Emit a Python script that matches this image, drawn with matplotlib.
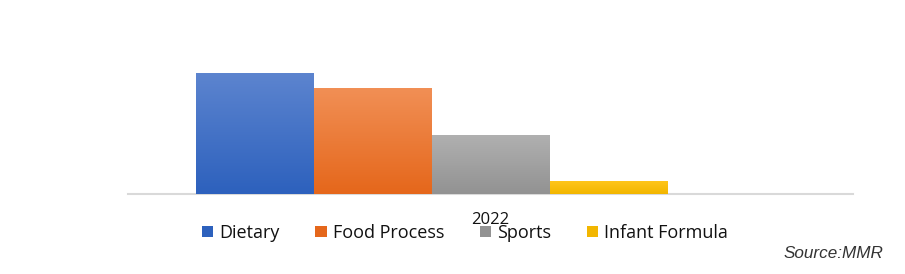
import matplotlib
matplotlib.use("Agg")
import matplotlib.pyplot as plt
import numpy as np
from matplotlib.colors import LinearSegmentedColormap
from matplotlib.patches import Rectangle

categories = ["2022"]
series = ["Dietary", "Food Process", "Sports", "Infant Formula", ""]
values = [121, 106, 59, 13, 0]
top_colors = ["#5c84cf", "#f18f55", "#b0b0b0", "#ffc51a"]
bot_colors = ["#2d61bd", "#e5671b", "#929292", "#f2b600"]

fig = plt.figure(figsize=(9.05, 2.74), dpi=100)
ax = fig.add_axes([128/905, (274-194)/274, (853-128)/905, 174/274])
ax.set_xlim(-0.5, 0.5)
ax.set_ylim(0, 174)

n = len(series)
w = 118/725
x0 = -w*n/2
handles = []
for i, (s, v) in enumerate(zip(series, values)):
    if v <= 0:
        continue
    xl = x0 + i*w
    bar = ax.bar(xl, v, width=w, align="edge", color=bot_colors[i], zorder=2)[0]
    cmap = LinearSegmentedColormap.from_list("g", [bot_colors[i], top_colors[i]])
    grad = np.linspace(0, 1, 100).reshape(-1, 1)
    im = ax.imshow(grad, cmap=cmap, origin="lower", aspect="auto",
                   extent=[bar.get_x(), bar.get_x()+bar.get_width(), 0, bar.get_height()],
                   zorder=3)
    im.set_clip_path(bar)
    handles.append(Rectangle((0, 0), 1, 1, facecolor=bot_colors[i]))
ax.set_xlim(-0.5, 0.5)
ax.set_ylim(0, 174)

for sp in ["top", "right", "left"]:
    ax.spines[sp].set_visible(False)
ax.spines["bottom"].set_color("#d9d9d9")
ax.spines["bottom"].set_linewidth(1.5)
ax.set_yticks([])
ax.set_xticks([0])
ax.set_xticklabels(categories, fontsize=12, family="Open Sans", color="#111111")
ax.tick_params(axis="x", length=0, pad=13)

leg = fig.legend(handles, series[:4], loc="center", bbox_to_anchor=(465/905, 1-233/274),
                 ncol=4, frameon=False, prop={"family": "Open Sans", "size": 13},
                 handlelength=0.62, handleheight=0.62, handletextpad=0.33,
                 columnspacing=2.0, borderpad=0, borderaxespad=0)
for t in leg.get_texts():
    t.set_color("#111111")

fig.text(883/905, 1-254/274, "Source:MMR", ha="right", va="center",
         fontsize=12.3, style="italic", family="Liberation Sans", color="#333333")

fig.savefig("out.png", dpi=100)
